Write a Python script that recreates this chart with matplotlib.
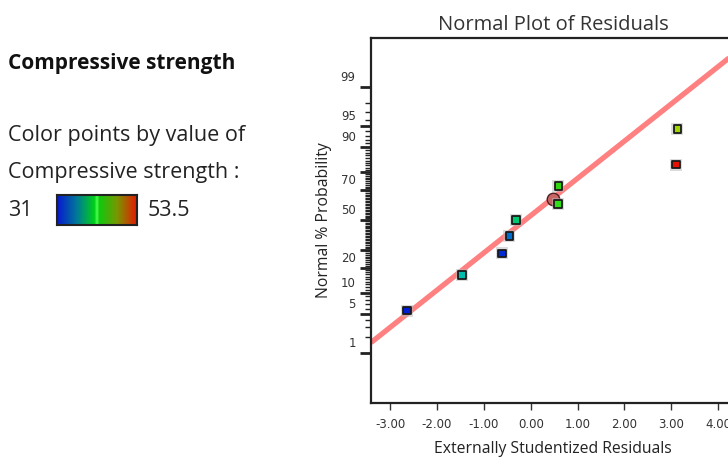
import numpy as np
import matplotlib
matplotlib.use("Agg")
import matplotlib.pyplot as plt
from matplotlib.colors import LinearSegmentedColormap, Normalize
from matplotlib.transforms import ScaledTranslation
from statistics import NormalDist

# residuals (x) and normal probability in % (y)
resid = [-2.64, -1.47, -0.61, -0.455, -0.32, 0.58, 0.59, 3.10, 3.13]
prob = [5.6, 16.7, 27.8, 38.9, 50.0, 61.1, 72.2, 83.3, 94.4]
strength = [31.5, 38.0, 32.0, 34.5, 40.0, 42.8, 43.0, 53.5, 46.5]
# highlighted point (circle)
hl_resid = 0.48
hl_prob = 64.0
# fitted normal line: z = a + b * residual
line_a = 0.074
line_b = 0.652

s_min, s_max = 31, 53.5
xticks = [-3, -2, -1, 0, 1, 2, 3, 4]
ymajor = [1, 5, 10, 20, 30, 50, 70, 80, 90, 95, 99]
ylabeled = [1, 5, 10, 20, 50, 70, 90, 95, 99]

nd = NormalDist()
z = lambda p: nd.inv_cdf(p / 100.0)

# bright map for the points, darker one for the legend bar
pt_cmap = LinearSegmentedColormap.from_list(
    "pts", [(0, "#0010d8"), (0.28, "#00b8c0"), (0.45, "#00d050"),
            (0.5, "#30ff30"), (0.55, "#30c000"), (0.7, "#a8d800"),
            (1, "#e81000")])
bar_cmap = LinearSegmentedColormap.from_list(
    "bar", [(0, "#0818d0"), (0.25, "#007a98"), (0.47, "#00d018"),
            (0.5, "#50ff50"), (0.53, "#10c810"), (0.75, "#789800"),
            (1, "#e81800")])
norm = Normalize(s_min, s_max)

fig = plt.figure(figsize=(7.28, 4.61), dpi=100)
ax = fig.add_axes([371 / 728, 58 / 461, 364 / 728, 365 / 461])

# fit line
xl = np.array([-3.41, 4.4])
ax.plot(xl, line_a + line_b * xl, color="#ff8080", lw=3.8, solid_capstyle="butt", zorder=2)

# highlighted circle
ax.plot([hl_resid], [z(hl_prob)], "o", ms=9, mfc="#c86464", mec="#502020", mew=1.0, zorder=3)

zs = [z(p) for p in prob]
cols = [pt_cmap(norm(v)) for v in strength]
# soft halo
ax.scatter(resid, zs, marker="s", s=70, c="#bbbbbb", alpha=0.5, linewidths=0, zorder=3)
ax.scatter(resid, zs, marker="s", s=30, c=cols, edgecolors="#1a1a1a", linewidths=1.3, zorder=4)

ax.set_xlim(-3.41, 4.36)
ax.set_ylim(-3.207, 3.183)

ax.set_xticks(xticks)
ax.set_xticklabels([f"{t:.2f}" for t in xticks], fontsize=8.5, color="#333333")
ax.tick_params(axis="x", length=5, width=1, color="#333333", pad=6)

ax.set_yticks([z(p) for p in ymajor])
ax.set_yticklabels([str(p) if p in ylabeled else "" for p in ymajor], fontsize=8.5, color="#333333")
minor = [p for p in range(1, 100) if p not in ymajor]
ax.set_yticks([z(p) for p in minor], minor=True)
ax.tick_params(axis="y", which="major", length=8, width=2, color="#222222", pad=3)
ax.tick_params(axis="y", which="minor", length=4, width=1, color="#222222")
off = ScaledTranslation(0, 11 / 100, fig.dpi_scale_trans)
for lab in ax.get_yticklabels():
    lab.set_transform(lab.get_transform() + off)

for s in ["left", "bottom", "top", "right"]:
    ax.spines[s].set_color("#222222")
    ax.spines[s].set_linewidth(1.6)

ax.set_title("Normal Plot of Residuals", fontsize=14.5, color="#333333", pad=6,
             family="Open Sans")
ax.set_xlabel("Externally Studentized Residuals", fontsize=11.3, color="#222222",
              labelpad=7, family="Open Sans")
ax.set_ylabel("Normal % Probability", fontsize=11.3, color="#222222", labelpad=6,
              family="Open Sans")

# left legend text
fig.text(8 / 728, 1 - 63 / 461, "Compressive strength", fontsize=15, weight="bold",
         family="Open Sans", va="center", color="#111111")
fig.text(8 / 728, 1 - 135 / 461, "Color points by value of", fontsize=15.5,
         family="Open Sans", va="center", color="#222222")
fig.text(8 / 728, 1 - 172 / 461, "Compressive strength :", fontsize=15.5,
         family="Open Sans", va="center", color="#222222")
fig.text(8 / 728, 1 - 211 / 461, str(s_min), fontsize=15.5,
         family="Open Sans", va="center", color="#222222")
fig.text(148 / 728, 1 - 211 / 461, str(s_max), fontsize=15.5,
         family="Open Sans", va="center", color="#222222")
cax = fig.add_axes([57 / 728, 1 - 225 / 461, 80 / 728, 30 / 461])
cax.imshow(np.linspace(0, 1, 256)[None, :], aspect="auto", cmap=bar_cmap)
cax.set_xticks([])
cax.set_yticks([])
for s in cax.spines.values():
    s.set_linewidth(1.5)
    s.set_color("#222222")

fig.savefig("out.png", dpi=100)
